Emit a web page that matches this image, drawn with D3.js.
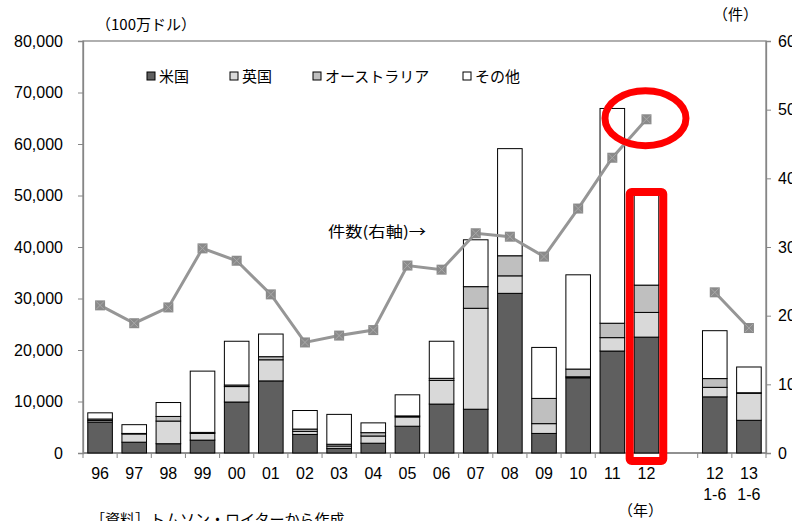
<!DOCTYPE html>
<html>
<head>
<meta charset="utf-8">
<script src="https://cdn.jsdelivr.net/npm/d3@7/dist/d3.min.js"></script>
<style>
  html, body { margin: 0; padding: 0; background: #fff; }
  svg { display: block; }
  .num { font-family: "Liberation Sans", Arial, sans-serif; font-size: 16px; fill: #000; }
  .jp { font-family: "Noto Sans CJK JP", sans-serif; font-size: 15px; fill: #000; }
</style>
</head>
<body>
<svg id="chart" width="792" height="521"></svg>
<script>
// Categories (years; "" is an empty spacer slot, "\n" splits label lines)
const categories = ["96","97","98","99","00","01","02","03","04","05","06","07","08","09","10","11","12","","12\n1-6","13\n1-6"];

// Deal value by target country (million USD)
const usValues    = [6000, 2100, 1800, 2500, 9900, 14000, 3600,  900, 1900, 5200, 9500,  8500, 31000, 3800, 14600, 19800, 22500, 0, 10900, 6350];
const ukValues    = [ 300, 1600, 4400, 1300, 3000,  4100,  600,  450, 1400, 1800, 4600, 19600,  3400, 1900,   200,  2600,  4800, 0,  1850, 5250];
const ausValues   = [ 300,  100,  900,  200,  300,   600,  450,  350,  650,  200,  400,  4200,  3900, 4900,  1500,  2800,  5300, 0,  1700,  100];
const otherValues = [1200, 1700, 2700,11900, 8500,  4400, 3600, 5800, 1900, 4100, 7200,  9100, 20800, 9900, 18300, 41700, 17700, 0,  9300, 5000];

// Number of deals (right axis)
const dealCounts = [215, 189, 212, 298, 280, 231, 161, 171, 179, 273, 267, 320, 315, 286, 356, 430, 486, null, 234, 182];

const seriesNames = ["米国", "英国", "オーストラリア", "その他"];
const seriesColors = ["#5f5f5f", "#d9d9d9", "#bfbfbf", "#ffffff"];

const leftTicks = [0, 10000, 20000, 30000, 40000, 50000, 60000, 70000, 80000];
const rightTicks = [0, 100, 200, 300, 400, 500, 600];

const svg = d3.select("#chart");
const plot = { left: 83, right: 766, top: 41, bottom: 453 };

const x = d3.scaleBand()
  .domain(d3.range(categories.length))
  .range([plot.left, plot.right])
  .paddingInner(0.28)
  .paddingOuter(0.14);

const yL = d3.scaleLinear().domain([0, 80000]).range([plot.bottom, plot.top]);
const yR = d3.scaleLinear().domain([0, 600]).range([plot.bottom, plot.top]);

// Table for stacking
const rows = categories.map((c, i) => ({
  i,
  "米国": usValues[i],
  "英国": ukValues[i],
  "オーストラリア": ausValues[i],
  "その他": otherValues[i]
}));
const stacked = d3.stack().keys(seriesNames)(rows);

// Plot area frame
svg.append("rect")
  .attr("x", plot.left).attr("y", plot.top)
  .attr("width", plot.right - plot.left).attr("height", plot.bottom - plot.top)
  .attr("fill", "none").attr("stroke", "#868686").attr("stroke-width", 1.3);

// Left axis
const leftAxis = svg.append("g")
  .attr("transform", `translate(${plot.left},0)`)
  .call(d3.axisLeft(yL).tickValues(leftTicks).tickSize(5).tickPadding(15).tickFormat(d3.format(",")));
leftAxis.select(".domain").attr("stroke", "#868686").attr("stroke-width", 1.3);
leftAxis.selectAll(".tick line").attr("stroke", "#868686");
leftAxis.selectAll(".tick text").attr("class", "num").attr("font-family", null).attr("font-size", null);

// Right axis
const rightAxis = svg.append("g")
  .attr("transform", `translate(${plot.right},0)`)
  .call(d3.axisRight(yR).tickValues(rightTicks).tickSize(5).tickPadding(7));
rightAxis.select(".domain").attr("stroke", "#868686").attr("stroke-width", 1.3);
rightAxis.selectAll(".tick line").attr("stroke", "#868686");
rightAxis.selectAll(".tick text").attr("class", "num").attr("font-family", null).attr("font-size", null);

// Bottom axis: ticks at slot boundaries
const step = x.step();
const boundaries = d3.range(categories.length + 1).map(k => plot.left + k * step);
svg.append("line")
  .attr("x1", plot.left).attr("x2", plot.right)
  .attr("y1", plot.bottom).attr("y2", plot.bottom)
  .attr("stroke", "#868686").attr("stroke-width", 1.3);
svg.append("g").selectAll("line").data(boundaries).join("line")
  .attr("x1", d => d).attr("x2", d => d)
  .attr("y1", plot.bottom).attr("y2", plot.bottom + 5)
  .attr("stroke", "#868686");

// Category labels
const labelG = svg.append("g");
categories.forEach((c, i) => {
  const cx = x(i) + x.bandwidth() / 2;
  c.split("\n").forEach((line, j) => {
    labelG.append("text")
      .attr("class", "num")
      .attr("x", cx).attr("y", 479 + j * 21)
      .attr("text-anchor", "middle")
      .text(line);
  });
});

// Stacked bars
svg.append("g").selectAll("g").data(stacked).join("g")
  .attr("fill", (d, k) => seriesColors[k])
  .selectAll("rect")
  .data(d => d.filter(s => categories[s.data.i] !== ""))
  .join("rect")
  .attr("x", d => x(d.data.i))
  .attr("width", x.bandwidth())
  .attr("y", d => yL(d[1]))
  .attr("height", d => yL(d[0]) - yL(d[1]))
  .attr("stroke", "#000")
  .attr("stroke-width", 1);

// Deal count line
const cx = i => x(i) + x.bandwidth() / 2;
const lineGen = d3.line()
  .defined(d => d.v !== null)
  .x(d => cx(d.i))
  .y(d => yR(d.v));
const pts = dealCounts.map((v, i) => ({ i, v }));
svg.append("path")
  .datum(pts)
  .attr("d", lineGen)
  .attr("fill", "none")
  .attr("stroke", "#969696")
  .attr("stroke-width", 3);

const mk = svg.append("g").selectAll("g").data(pts.filter(d => d.v !== null)).join("g")
  .attr("transform", d => `translate(${cx(d.i)},${yR(d.v)})`);
mk.append("rect")
  .attr("x", -5).attr("y", -5).attr("width", 10).attr("height", 10)
  .attr("fill", "#8a8a8a");
mk.append("path")
  .attr("d", "M-4,-4L4,4M-4,4L4,-4")
  .attr("stroke", "#a8a8a8").attr("stroke-width", 1);

// Legend
const legendX = [147, 230, 313, 463];
const lg = svg.append("g").selectAll("g").data(seriesNames).join("g")
  .attr("transform", (d, k) => `translate(${legendX[k]},0)`);
lg.append("rect")
  .attr("x", 0).attr("y", 72).attr("width", 8).attr("height", 8)
  .attr("fill", (d, k) => seriesColors[k])
  .attr("stroke", "#000").attr("stroke-width", 1);
lg.append("text")
  .attr("class", "jp")
  .attr("x", 12).attr("y", 82)
  .text(d => d);

// Axis unit captions and notes
svg.append("text").attr("class", "jp").attr("x", 96).attr("y", 30).text("（100万ドル）");
svg.append("text").attr("class", "jp").attr("x", 713).attr("y", 20).text("（件）");
svg.append("text").attr("class", "jp").attr("x", 328).attr("y", 237)
  .attr("textLength", 98).attr("lengthAdjust", "spacingAndGlyphs").text("件数(右軸)→");
svg.append("text").attr("class", "jp").attr("x", 618).attr("y", 516).text("（年）");
svg.append("text").attr("class", "jp").attr("x", 90).attr("y", 525).text("［資料］トムソン・ロイターから作成");

// Highlight for 2012
const hi = 16;
const total12 = usValues[hi] + ukValues[hi] + ausValues[hi] + otherValues[hi];
svg.append("rect")
  .attr("x", x(hi) - 4.5)
  .attr("y", yL(total12) - 2)
  .attr("width", x.bandwidth() + 9)
  .attr("height", yL(0) - yL(total12) + 10)
  .attr("rx", 2)
  .attr("fill", "none")
  .attr("stroke", "#ff0000")
  .attr("stroke-width", 8);
svg.append("ellipse")
  .attr("cx", cx(hi) - 1)
  .attr("cy", yR(dealCounts[hi]) - 1)
  .attr("rx", 40.5).attr("ry", 27.5)
  .attr("fill", "none")
  .attr("stroke", "#ff0000")
  .attr("stroke-width", 7);
</script>
</body>
</html>
